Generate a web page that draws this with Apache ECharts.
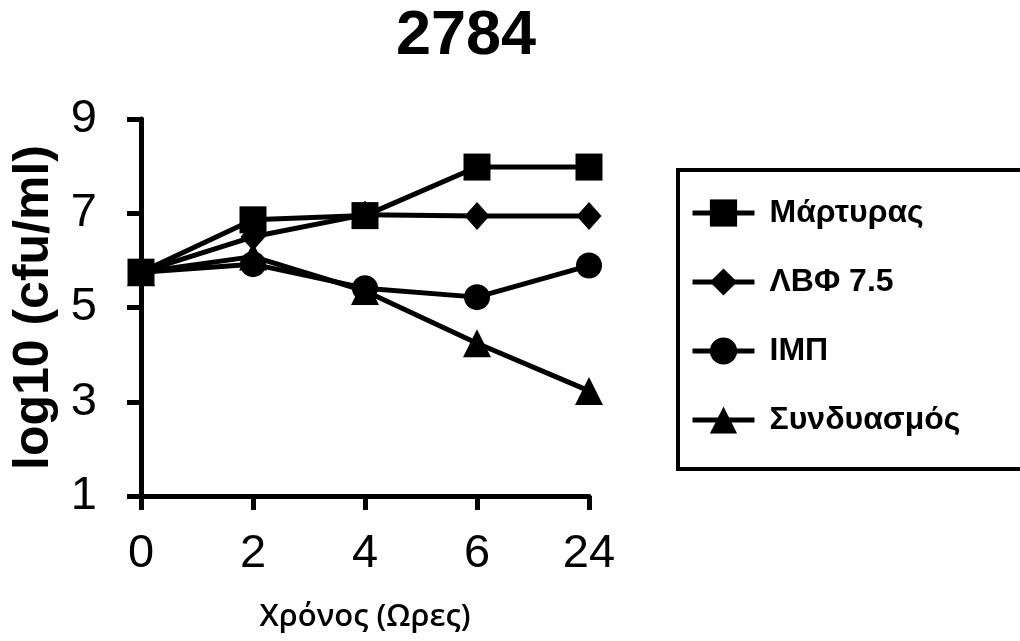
<!DOCTYPE html>
<html>
<head>
<meta charset="utf-8">
<script src="https://cdn.jsdelivr.net/npm/echarts@6/dist/echarts.min.js"></script>
<style>
html,body{margin:0;padding:0;background:#fff;overflow:hidden;}
#chart{width:1020px;height:641px;}
</style>
</head>
<body>
<div id="chart"></div>
<script>
const titleText = '2784';
const categories = ['0', '2', '4', '6', '24'];
const yTicks = [1, 3, 5, 7, 9];
const xName = 'Χρόνος (Ωρες)';
const yName = 'log10 (cfu/ml)';
const seriesNames = ['Μάρτυρας', 'ΛΒΦ 7.5', 'ΙΜΠ', 'Συνδυασμός'];
const martyras = [5.75, 6.86, 6.95, 7.98, 7.98];
const lbf = [5.75, 6.5, 6.97, 6.94, 6.94];
const imp = [5.75, 5.92, 5.41, 5.22, 5.89];
const syndyasmos = [5.75, 6.08, 5.35, 4.24, 3.23];

const FONT = '"Liberation Sans", Arial, sans-serif';
const chart = echarts.init(document.getElementById('chart'), null, {renderer: 'canvas'});

function mkSeries(name, data, symbol, size) {
  return {
    name: name, type: 'line', data: data,
    symbol: symbol, symbolSize: size,
    lineStyle: {color: '#000', width: 5},
    itemStyle: {color: '#000'},
    emphasis: {disabled: true},
    animation: false
  };
}

chart.setOption({
  backgroundColor: '#fff',
  animation: false,
  title: {
    text: titleText, left: 461, top: 0, textAlign: 'center',
    textStyle: {fontFamily: FONT, fontWeight: 'bold', fontSize: 63, color: '#000'}
  },
  graphic: [{
    type: 'polyline', silent: true,
    shape: {points: [[1040, 170], [678, 170], [678, 469], [1040, 469]]},
    style: {fill: 'none', stroke: '#000', lineWidth: 4}
  }],
  grid: {left: 141, right: 431, top: 119, bottom: 145, containLabel: false},
  legend: {
    orient: 'vertical', left: 678, top: 171,
    padding: [26, 20, 20, 12],
    itemGap: 37, itemWidth: 62, itemHeight: 34,
    lineStyle: {width: 5, color: '#000'},
    textStyle: {fontFamily: FONT, fontWeight: 'bold', fontSize: 32, color: '#000', padding: [0, 0, 0, 10]},
    data: seriesNames
  },
  xAxis: {
    type: 'category', data: categories, boundaryGap: false,
    name: xName, nameLocation: 'middle', nameGap: 106,
    nameTextStyle: {fontFamily: '"Open Sans", sans-serif', fontWeight: 600, fontSize: 31, color: '#000'},
    axisLine: {lineStyle: {color: '#000', width: 5}},
    axisTick: {length: 14, lineStyle: {color: '#000', width: 5}, alignWithLabel: true},
    axisLabel: {fontFamily: FONT, fontSize: 47, color: '#000', margin: 35},
    splitLine: {show: false}
  },
  yAxis: {
    type: 'value', min: 1, max: 9,
    name: yName, nameLocation: 'middle', nameGap: 82, nameRotate: 90,
    nameTextStyle: {fontFamily: FONT, fontWeight: 'bold', fontSize: 50, color: '#000'},
    axisLine: {show: true, lineStyle: {color: '#000', width: 5}},
    axisTick: {show: true, length: 14, customValues: yTicks, lineStyle: {color: '#000', width: 5}},
    axisLabel: {fontFamily: FONT, fontSize: 47, color: '#000', margin: 44, customValues: yTicks},
    splitLine: {show: false}
  },
  series: [
    mkSeries(seriesNames[0], martyras, 'rect', 27),
    mkSeries(seriesNames[1], lbf, 'diamond', [25, 28]),
    mkSeries(seriesNames[2], imp, 'circle', 26),
    mkSeries(seriesNames[3], syndyasmos, 'triangle', 28)
  ]
});
</script>
</body>
</html>
